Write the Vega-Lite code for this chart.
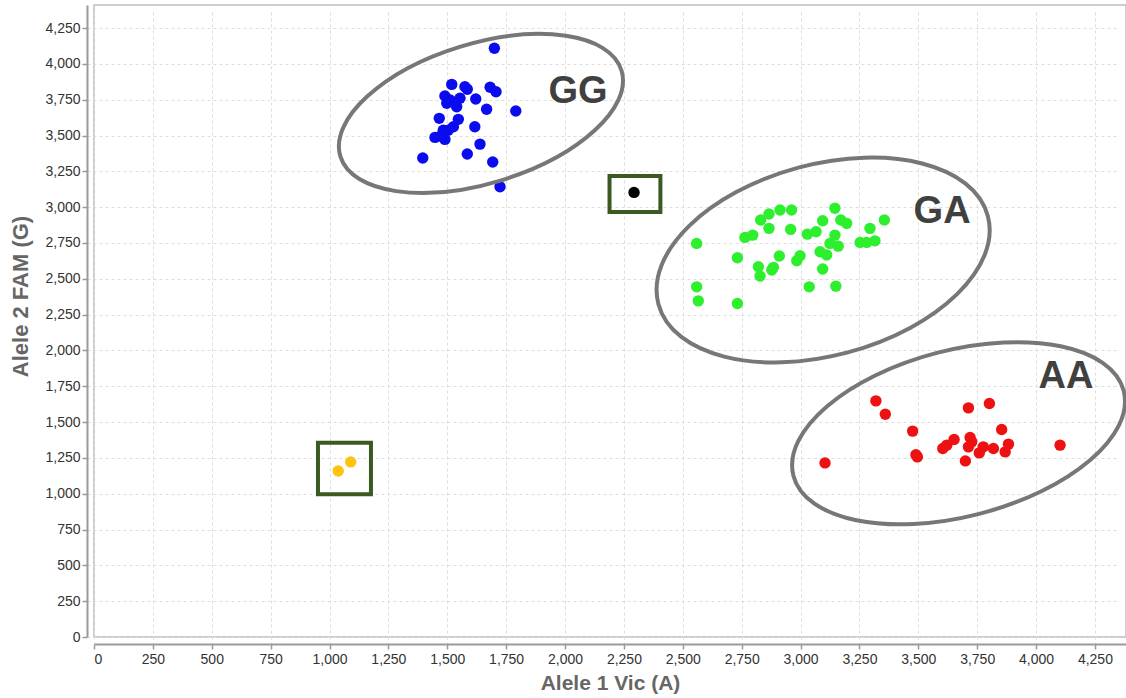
{
  "$schema": "https://vega.github.io/schema/vega-lite/v6.json",
  "width": 1032,
  "height": 632,
  "autosize": "none",
  "padding": {"left": 94, "top": 5, "right": 0, "bottom": 61},
  "background": "white",
  "config": {
    "font": "Liberation Sans",
    "view": {"stroke": "#bdbdbd", "strokeWidth": 1.5},
    "axis": {
      "domainColor": "#9a9a9a",
      "domainWidth": 2,
      "tickColor": "#9a9a9a",
      "tickWidth": 1.5,
      "tickSize": 5,
      "labelFontSize": 14,
      "labelColor": "#333333",
      "labelFont": "Liberation Sans",
      "labelOverlap": false,
      "titleFont": "Liberation Sans",
      "titleFontSize": 21,
      "titleFontWeight": "bold",
      "titleColor": "#666666",
      "gridColor": "#dddddd",
      "gridDash": [3, 3],
      "gridWidth": 1,
      "offset": 7
    }
  },
  "layer": [
    {
      "data": {"values": [
        {"x": 1700, "y": 4109, "call": "GG"},
        {"x": 1519, "y": 3857, "call": "GG"},
        {"x": 1575, "y": 3841, "call": "GG"},
        {"x": 1585, "y": 3823, "call": "GG"},
        {"x": 1682, "y": 3837, "call": "GG"},
        {"x": 1707, "y": 3806, "call": "GG"},
        {"x": 1490, "y": 3776, "call": "GG"},
        {"x": 1512, "y": 3748, "call": "GG"},
        {"x": 1554, "y": 3760, "call": "GG"},
        {"x": 1621, "y": 3755, "call": "GG"},
        {"x": 1498, "y": 3725, "call": "GG"},
        {"x": 1540, "y": 3701, "call": "GG"},
        {"x": 1667, "y": 3683, "call": "GG"},
        {"x": 1791, "y": 3671, "call": "GG"},
        {"x": 1466, "y": 3620, "call": "GG"},
        {"x": 1547, "y": 3613, "call": "GG"},
        {"x": 1526, "y": 3561, "call": "GG"},
        {"x": 1617, "y": 3561, "call": "GG"},
        {"x": 1483, "y": 3537, "call": "GG"},
        {"x": 1504, "y": 3537, "call": "GG"},
        {"x": 1448, "y": 3487, "call": "GG"},
        {"x": 1490, "y": 3473, "call": "GG"},
        {"x": 1472, "y": 3497, "call": "GG"},
        {"x": 1639, "y": 3440, "call": "GG"},
        {"x": 1585, "y": 3371, "call": "GG"},
        {"x": 1396, "y": 3343, "call": "GG"},
        {"x": 1693, "y": 3315, "call": "GG"},
        {"x": 1724, "y": 3142, "call": "GG"},
        {"x": 2559, "y": 2747, "call": "GA"},
        {"x": 2732, "y": 2647, "call": "GA"},
        {"x": 2559, "y": 2444, "call": "GA"},
        {"x": 2566, "y": 2346, "call": "GA"},
        {"x": 2732, "y": 2328, "call": "GA"},
        {"x": 2764, "y": 2789, "call": "GA"},
        {"x": 2797, "y": 2805, "call": "GA"},
        {"x": 2831, "y": 2910, "call": "GA"},
        {"x": 2866, "y": 2952, "call": "GA"},
        {"x": 2913, "y": 2980, "call": "GA"},
        {"x": 2962, "y": 2980, "call": "GA"},
        {"x": 2866, "y": 2852, "call": "GA"},
        {"x": 2958, "y": 2845, "call": "GA"},
        {"x": 2910, "y": 2659, "call": "GA"},
        {"x": 2821, "y": 2584, "call": "GA"},
        {"x": 2828, "y": 2519, "call": "GA"},
        {"x": 2878, "y": 2561, "call": "GA"},
        {"x": 2885, "y": 2580, "call": "GA"},
        {"x": 2984, "y": 2626, "call": "GA"},
        {"x": 2998, "y": 2661, "call": "GA"},
        {"x": 3037, "y": 2444, "call": "GA"},
        {"x": 3029, "y": 2812, "call": "GA"},
        {"x": 3066, "y": 2828, "call": "GA"},
        {"x": 3094, "y": 2905, "call": "GA"},
        {"x": 3146, "y": 2992, "call": "GA"},
        {"x": 3171, "y": 2910, "call": "GA"},
        {"x": 3196, "y": 2887, "call": "GA"},
        {"x": 3146, "y": 2805, "call": "GA"},
        {"x": 3125, "y": 2747, "call": "GA"},
        {"x": 3160, "y": 2728, "call": "GA"},
        {"x": 3083, "y": 2689, "call": "GA"},
        {"x": 3111, "y": 2666, "call": "GA"},
        {"x": 3094, "y": 2568, "call": "GA"},
        {"x": 3150, "y": 2449, "call": "GA"},
        {"x": 3253, "y": 2754, "call": "GA"},
        {"x": 3281, "y": 2754, "call": "GA"},
        {"x": 3316, "y": 2765, "call": "GA"},
        {"x": 3295, "y": 2852, "call": "GA"},
        {"x": 3356, "y": 2910, "call": "GA"},
        {"x": 3320, "y": 1648, "call": "AA"},
        {"x": 3360, "y": 1555, "call": "AA"},
        {"x": 3104, "y": 1215, "call": "AA"},
        {"x": 3476, "y": 1437, "call": "AA"},
        {"x": 3496, "y": 1257, "call": "AA"},
        {"x": 3490, "y": 1272, "call": "AA"},
        {"x": 3713, "y": 1599, "call": "AA"},
        {"x": 3802, "y": 1630, "call": "AA"},
        {"x": 3854, "y": 1448, "call": "AA"},
        {"x": 3604, "y": 1316, "call": "AA"},
        {"x": 3621, "y": 1339, "call": "AA"},
        {"x": 3652, "y": 1378, "call": "AA"},
        {"x": 3700, "y": 1229, "call": "AA"},
        {"x": 3720, "y": 1392, "call": "AA"},
        {"x": 3727, "y": 1362, "call": "AA"},
        {"x": 3713, "y": 1327, "call": "AA"},
        {"x": 3759, "y": 1285, "call": "AA"},
        {"x": 3776, "y": 1327, "call": "AA"},
        {"x": 3819, "y": 1316, "call": "AA"},
        {"x": 3869, "y": 1292, "call": "AA"},
        {"x": 3883, "y": 1346, "call": "AA"},
        {"x": 4102, "y": 1339, "call": "AA"},
        {"x": 2293, "y": 3103, "call": "Undetermined"},
        {"x": 1037, "y": 1159, "call": "NTC"},
        {"x": 1090, "y": 1222, "call": "NTC"}
      ]},
      "mark": {"type": "circle", "size": 130, "opacity": 1},
      "encoding": {
        "x": {
          "field": "x", "type": "quantitative",
          "scale": {"domain": [0, 4382], "nice": false, "zero": false},
          "axis": {"title": "Alele 1 Vic (A)", "values": [0,250,500,750,1000,1250,1500,1750,2000,2250,2500,2750,3000,3250,3500,3750,4000,4250], "tickCount": 30, "format": ",d", "labelOverlap": false, "labelPadding": 3, "titlePadding": 6}
        },
        "y": {
          "field": "y", "type": "quantitative",
          "scale": {"domain": [0, 4411], "nice": false, "zero": false},
          "axis": {"title": "Alele 2 FAM (G)", "values": [0,250,500,750,1000,1250,1500,1750,2000,2250,2500,2750,3000,3250,3500,3750,4000,4250], "tickCount": 30, "format": ",d", "labelOverlap": false, "labelPadding": 2, "titlePadding": 12, "titleY": 291, "titleFontSize": 22}
        },
        "color": {
          "field": "call", "type": "nominal",
          "scale": {"domain": ["GG", "GA", "AA", "Undetermined", "NTC"], "range": ["#0b0bef", "#2def2d", "#ee1111", "#000000", "#ffc20e"]},
          "legend": null
        }
      }
    },
    {
      "data": {"values": [{"x": 1643, "y": 3654, "cluster": "GG"}]},
      "mark": {"type": "point", "shape": "M -1 0 C -1 -0.2626 -0.5523 -0.4755 0 -0.4755 C 0.5523 -0.4755 1 -0.2626 1 0 C 1 0.2626 0.5523 0.4755 0 0.4755 C -0.5523 0.4755 -1 0.2626 -1 0 Z", "size": 86436, "angle": -17, "filled": false, "stroke": "#777777", "strokeWidth": 4, "opacity": 1},
      "encoding": {"x": {"field": "x", "type": "quantitative"}, "y": {"field": "y", "type": "quantitative"}}
    },
    {
      "data": {"values": [{"x": 3096, "y": 2631, "cluster": "GA"}]},
      "mark": {"type": "point", "shape": "M -1 0 C -1 -0.31 -0.5523 -0.561 0 -0.561 C 0.5523 -0.561 1 -0.31 1 0 C 1 0.31 0.5523 0.561 0 0.561 C -0.5523 0.561 -1 0.31 -1 0 Z", "size": 116281, "angle": -15, "filled": false, "stroke": "#777777", "strokeWidth": 4, "opacity": 1},
      "encoding": {"x": {"field": "x", "type": "quantitative"}, "y": {"field": "y", "type": "quantitative"}}
    },
    {
      "data": {"values": [{"x": 3671, "y": 1422, "cluster": "AA"}]},
      "mark": {"type": "point", "shape": "M -1 0 C -1 -0.2695 -0.5523 -0.488 0 -0.488 C 0.5523 -0.488 1 -0.2695 1 0 C 1 0.2695 0.5523 0.488 0 0.488 C -0.5523 0.488 -1 0.2695 -1 0 Z", "size": 116281, "angle": -14.4, "filled": false, "stroke": "#777777", "strokeWidth": 4, "opacity": 1},
      "encoding": {"x": {"field": "x", "type": "quantitative"}, "y": {"field": "y", "type": "quantitative"}}
    },
    {
      "data": {"values": [
        {"x": 2189, "x2": 2405, "y": 3217, "y2": 2966},
        {"x": 951, "x2": 1176, "y": 1356, "y2": 997}
      ]},
      "mark": {"type": "rect", "fill": null, "fillOpacity": 0, "stroke": "#3a5a22", "strokeWidth": 4},
      "encoding": {
        "x": {"field": "x", "type": "quantitative"},
        "x2": {"field": "x2"},
        "y": {"field": "y", "type": "quantitative"},
        "y2": {"field": "y2"}
      }
    },
    {
      "data": {"values": [
        {"x": 2055, "y": 3803, "label": "GG"},
        {"x": 3601, "y": 2965, "label": "GA"},
        {"x": 4127, "y": 1813, "label": "AA"}
      ]},
      "mark": {"type": "text", "fontSize": 38, "fontWeight": "bold", "color": "#404040", "align": "center", "baseline": "middle", "font": "Liberation Sans"},
      "encoding": {
        "x": {"field": "x", "type": "quantitative"},
        "y": {"field": "y", "type": "quantitative"},
        "text": {"field": "label"}
      }
    }
  ]
}
